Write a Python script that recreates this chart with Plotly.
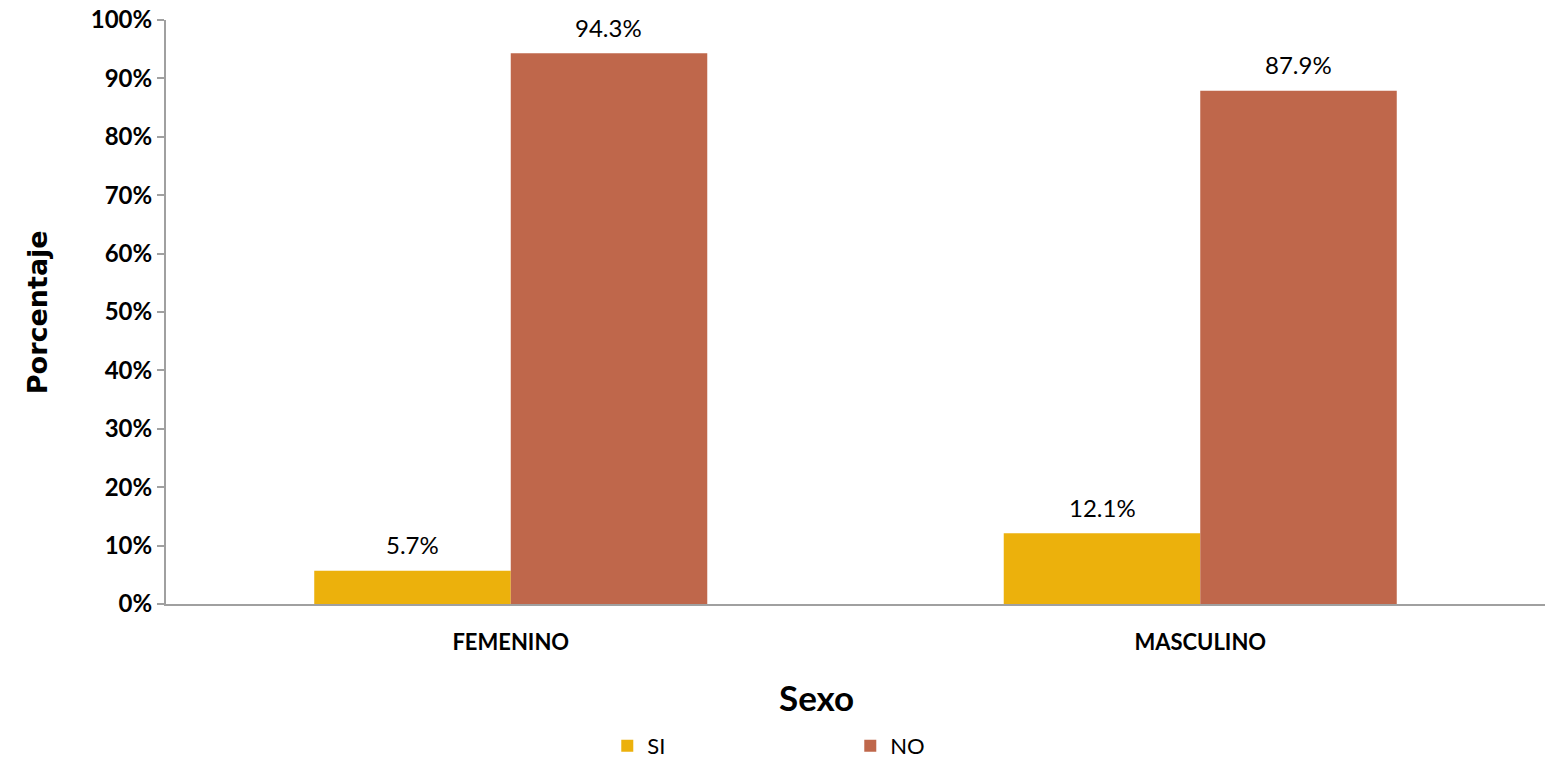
import plotly.graph_objects as go

categories = ["FEMENINO", "MASCULINO"]
series_names = ["SI", "NO"]
si_values = [5.7, 12.1]
no_values = [94.3, 87.9]
y_ticks = [0, 10, 20, 30, 40, 50, 60, 70, 80, 90, 100]
y_tick_labels = [f"{v}%" for v in y_ticks]

FONT = "Lato"
colors = {"SI": "#ECB10C", "NO": "#BF674B"}

fig = go.Figure()
for name, vals in zip(series_names, [si_values, no_values]):
    fig.add_trace(go.Bar(
        x=categories, y=vals, name=name,
        marker=dict(color=colors[name], line=dict(width=0)),
        hoverinfo="x+y+name",
    ))

# data labels
shift = {"SI": -98, "NO": 98}
for name, vals in zip(series_names, [si_values, no_values]):
    for c, v in zip(categories, vals):
        fig.add_annotation(
            x=c, y=v, text=f"{v:.1f}%", showarrow=False,
            xshift=shift[name], yshift=26,
            xanchor="center", yanchor="middle",
            font=dict(family=FONT, size=24, color="#000000"),
        )

fig.add_annotation(
    x=0.472, y=-0.159, xref="paper", yref="paper", text="<b>Sexo</b>",
    xanchor="center", yanchor="middle",
    showarrow=False, font=dict(family=FONT, size=35, color="#000000"),
)
fig.add_annotation(
    x=-0.0934, y=0.5, xref="paper", yref="paper", text="<b>Porcentaje</b>",
    xanchor="center", yanchor="middle",
    textangle=-90, showarrow=False,
    font=dict(family="DejaVu Sans", size=27, color="#000000"),
)

fig.update_layout(
    width=1545, height=767,
    margin=dict(l=166, r=0, t=20, b=163),
    paper_bgcolor="white", plot_bgcolor="white",
    barmode="group", bargap=0.43, bargroupgap=0,
    font=dict(family=FONT, color="#000000"),
    showlegend=True,
    legend=dict(
        orientation="h", x=0.32, xanchor="left",
        yref="container", y=-0.012, yanchor="bottom",
        font=dict(family=FONT, size=22), entrywidth=198, itemsizing="constant",
    ),
    xaxis=dict(
        showline=True, linecolor="#A0A0A0", linewidth=2,
        ticks="", showgrid=False,
        tickvals=categories, ticktext=[f"<b>{c}</b>" for c in categories],
        tickfont=dict(family=FONT, size=22, color="#000000"),
        ticklabelstandoff=18,
    ),
    yaxis=dict(
        range=[0, 100], tickvals=y_ticks, ticktext=[f"<b>{t}</b>" for t in y_tick_labels],
        showline=True, linecolor="#A0A0A0", linewidth=2,
        ticks="outside", ticklen=7, tickcolor="#A0A0A0", tickwidth=2,
        showgrid=False, zeroline=False, ticklabeloverflow="allow",
        tickfont=dict(family=FONT, size=24, color="#000000"),
    ),
)

fig.write_html("out.html", config={"displayModeBar": False},
               post_script="document.body.style.margin='0';")
